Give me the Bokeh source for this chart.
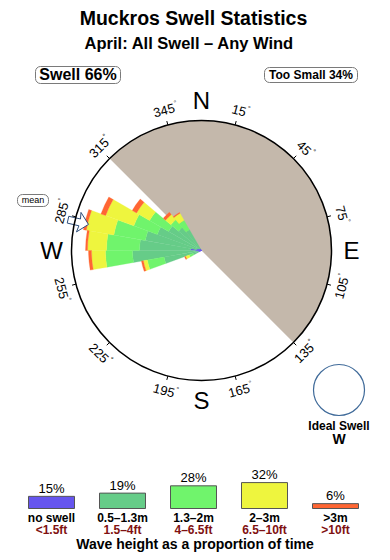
import numpy as np
from bokeh.plotting import figure
from bokeh.models import Range1d, ColumnDataSource
from bokeh.embed import file_html
from bokeh.resources import INLINE
from bokeh.core.properties import value

# ---------------- data ----------------
title = "Muckros Swell Statistics"
subtitle = "April: All Swell – Any Wind"
swell_label = "Swell 66%"
too_small_label = "Too Small 34%"
mean_direction = 283          # degrees (compass)
ideal_direction = "W"

# no-swell sector (land), compass degrees, clockwise from -> to
sheltered_from = 315
sheltered_to = 135

# rose bins (start of each 10 degree bin, compass)
directions = [240, 250, 260, 270, 280, 290, 300, 310, 320]
bin_width = 10
# radial length of each band per direction (rose units, ring = 130)
no_swell = [3, 4, 6, 11, 5, 4, 3, 2, 2]
h_05_13 = [6, 34, 63, 51, 52, 43, 35, 28, 22]
h_13_2 = [4, 17, 27, 33, 32, 25, 22, 10, 11]
h_2_3 = [4, 4, 14, 19, 28, 30, 15, 7, 8]
h_gt3 = [1, 2, 3, 2, 3, 5, 5, 3, 1]
ring_value = 130

tick_degrees = [15, 45, 75, 105, 135, 165, 195, 225, 255, 285, 315, 345]
cardinals = ["N", "E", "S", "W"]
cardinal_degrees = [0, 90, 180, 270]

legend_pct = [15, 19, 28, 32, 6]
legend_m = ["no swell", "0.5–1.3m", "1.3–2m", "2–3m", ">3m"]
legend_ft = ["<1.5ft", "1.5–4ft", "4–6.5ft", "6.5–10ft", ">10ft"]
legend_caption = "Wave height as a proportion of time"

# ---------------- style ----------------
FONT = value("Liberation Sans")
band_colors = ["#6655ee", "#66cc88", "#70f46c", "#eef53e", "#ff6633"]
land_color = "#c4b8ab"
cx, cy, R = 201.0, 310.0, 130.0
scale = R / ring_value


def pol(theta_deg, r):
    t = np.radians(np.asarray(theta_deg, dtype=float))
    return cx + r * np.sin(t), cy + r * np.cos(t)


def txt(x, y, text, size, bold=False, color="black", **kw):
    p.text(x=x, y=y, text=text, text_font=FONT, text_font_style="bold" if bold else "normal",
           text_font_size=f"{size}px", text_align=kw.pop("align", "center"),
           text_baseline="middle", text_color=color, **kw)


p = figure(width=390, height=560, x_range=Range1d(0, 390), y_range=Range1d(0, 560),
           output_backend="svg", toolbar_location=None, min_border=0,
           outline_line_color=None, background_fill_color="white",
           border_fill_color="white")
p.axis.visible = False
p.grid.visible = False

# titles
txt([193], [542.3], [title], 19.5, bold=True)
txt([189], [517.5], [subtitle], 16.5, bold=True)

# rounded boxes
p.quad(left=[35, 264, 17], right=[120, 357, 48], top=[494, 493, 366], bottom=[477, 478, 354],
       fill_color="white", line_color="#7a7a7a", line_width=1, border_radius=5)
txt([77.5], [485.8], [swell_label], 16, bold=True)
txt([310.5], [485.6], [too_small_label], 12, bold=True)
txt([32.5], [360.2], ["mean"], 9)

# sheltered (no swell) sector
p.wedge(x=[cx], y=[cy], radius=R,
        start_angle=np.radians(90 - sheltered_to), end_angle=np.radians(90 - sheltered_from + 360),
        direction="anticlock", fill_color=land_color, line_color=None)

# rose
bands = [no_swell, h_05_13, h_13_2, h_2_3, h_gt3]
cum = np.cumsum(np.array(bands, dtype=float), axis=0) * scale
d = np.array(directions, dtype=float)
for i, col in enumerate(band_colors):
    inner = np.zeros_like(d) if i == 0 else cum[i - 1]
    outer = cum[i]
    src = ColumnDataSource(dict(
        x=np.full_like(d, cx), y=np.full_like(d, cy), inner=inner, outer=outer,
        start=np.radians(90 - (d + bin_width)), end=np.radians(90 - d)))
    p.annular_wedge(x="x", y="y", inner_radius="inner", outer_radius="outer",
                    start_angle="start", end_angle="end", direction="anticlock",
                    source=src, fill_color=col, line_color=col, line_width=0.3)

# mean arrow
local = [(116, 0), (126, 10), (125, 3.5), (137, 3.5), (137, -3.5), (125, -3.5), (126, -10)]
th = np.radians(mean_direction)
u = np.array([np.sin(th), np.cos(th)])
v = np.array([np.cos(th), -np.sin(th)])
ax = [cx + r * u[0] + t * v[0] for r, t in local]
ay = [cy + r * u[1] + t * v[1] for r, t in local]
p.patch(ax, ay, fill_color="white", line_color="#2d4d7a", line_width=1)

# ring
p.circle(x=[cx], y=[cy], radius=R, fill_color=None, line_color="black", line_width=1.5)

# ticks
tx0, ty0 = pol(tick_degrees, R)
tx1, ty1 = pol(tick_degrees, R + 4)
p.segment(x0=tx0, y0=ty0, x1=tx1, y1=ty1, line_color="black", line_width=1)

# degree labels
tdeg = np.array(tick_degrees, dtype=float)
top_half = np.cos(np.radians(tdeg)) > 0
ang = np.radians(np.where(top_half, -tdeg, 180 - tdeg))
lx, ly = pol(tdeg, 145)
labels = [str(t) for t in tick_degrees]
txt(lx, ly, labels, 13, angle=ang)
half_w = np.array([len(s) * 0.556 * 13 / 2 for s in labels])
dx, dy = np.cos(ang), np.sin(ang)
ux, uy = -np.sin(ang), np.cos(ang)
ox = lx + dx * (half_w + 0.5) + ux * 4.5
oy = ly + dy * (half_w + 0.5) + uy * 4.5
txt(ox, oy, ["°"] * len(labels), 7, angle=ang, align="left")

# cardinal letters
kx, ky = pol(cardinal_degrees, 150)
txt(kx, ky, cardinals, 24)

# ideal swell
p.circle(x=[338.5], y=[170.5], radius=25.5, fill_color="white", line_color="#3f6a99", line_width=1.2)
txt([338.5], [134.2], ["Ideal Swell"], 12, bold=True)
txt([338.5], [121.6], [ideal_direction], 14, bold=True)

# legend
lc = 51 + 71 * np.arange(len(legend_pct))
pct = np.array(legend_pct, dtype=float)
tops = 52 + pct * 0.81
p.quad(left=lc - 23, right=lc + 23, bottom=52, top=tops, fill_color=band_colors,
       line_color="#555555", line_width=1)
txt(lc, tops + 8, [f"{v}%" for v in legend_pct], 13)
txt(lc, np.full(len(lc), 42.5), legend_m, 12, bold=True)
txt(lc, np.full(len(lc), 30.9), legend_ft, 12, bold=True, color="#7f1111")
txt([194.5], [16.6], [legend_caption], 14, bold=True)

open("out.html", "w").write(file_html(p, INLINE))
